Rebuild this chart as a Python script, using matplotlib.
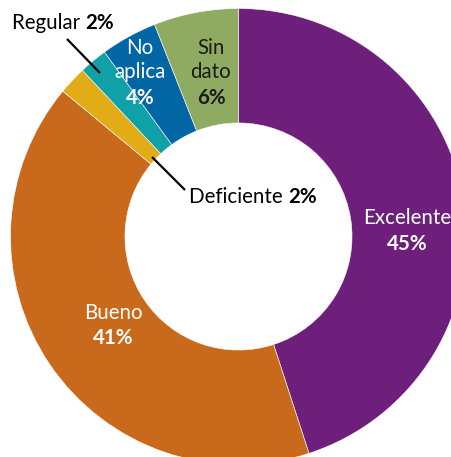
import matplotlib
matplotlib.use("Agg")
import matplotlib.pyplot as plt

categories = ["Excelente", "Bueno", "Deficiente", "Regular", "No aplica", "Sin dato"]
values = [45, 41, 2, 2, 4, 6]
colors = ["#6D1F7B", "#C8691B", "#E1AC16", "#0FA0A8", "#0266A5", "#8FAB62"]

W, H = 452, 457
fig = plt.figure(figsize=(W / 100, H / 100), dpi=100)
ax = fig.add_axes([0, 0, 1, 1])

cx, cy, R = 238.5, H - 236.5, 228
ax.pie(values, colors=colors, startangle=90, counterclock=False,
       center=(cx, cy), radius=R, frame=True,
       wedgeprops=dict(width=R * 0.502, edgecolor="white", linewidth=0.4))
ax.set_xlim(0, W)
ax.set_ylim(0, H)
ax.set_aspect("equal")
ax.axis("off")

FONT = "Lato"
FS = 14.8


def y(p):
    return H - p


def mixed(x, yp, normal, bold, color, ha="left"):
    """Draw 'normal bold' on one line, regular then bold weight."""
    t1 = ax.text(x, y(yp), normal + " ", fontsize=FS, family=FONT, color=color,
                 ha="left", va="center")
    fig.canvas.draw()
    r = fig.canvas.get_renderer()
    bb = t1.get_window_extent(r)
    t2 = ax.text(0, y(yp), bold, fontsize=FS, family=FONT, color=color,
                 fontweight="bold", ha="left", va="center")
    bb2 = t2.get_window_extent(r)
    total = bb.width + bb2.width
    x0 = x if ha == "left" else x - total / 2
    t1.set_x(x0)
    t2.set_x(x0 + bb.width)


def stacked(x, lines, color):
    for i, (txt, yp) in enumerate(lines):
        ax.text(x, y(yp), txt, fontsize=FS, family=FONT, color=color,
                fontweight="bold" if i == len(lines) - 1 else "normal",
                ha="center", va="center")


# outside labels with leader lines
mixed(12, 23, "Regular", f"{values[3]}%", "black")
ax.plot([67, 100], [y(39), y(73)], color="black", lw=1.6, solid_capstyle="butt")
mixed(189, 197, "Deficiente", f"{values[2]}%", "black")
ax.plot([152, 185], [y(157), y(190)], color="black", lw=1.6, solid_capstyle="butt")

# labels inside wedges
stacked(140, [("No", 48), ("aplica", 72), (f"{values[4]}%", 98)], "white")
stacked(211, [("Sin", 48), ("dato", 72), (f"{values[5]}%", 98)], "#1a1a1a")
stacked(407, [("Excelente", 218), (f"{values[0]}%", 244)], "white")
stacked(113, [("Bueno", 313), (f"{values[1]}%", 338)], "white")

fig.savefig("out.png", dpi=100)
